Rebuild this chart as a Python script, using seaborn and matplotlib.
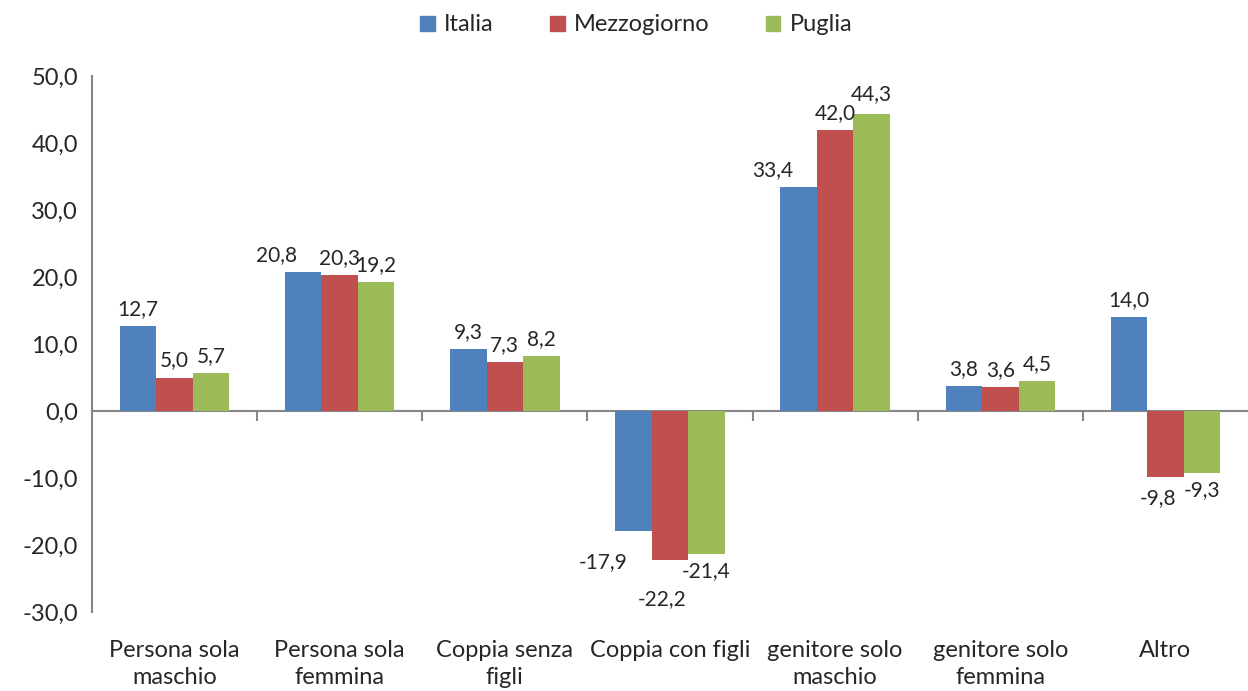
import pandas as pd
import matplotlib
matplotlib.use("Agg")
import matplotlib.pyplot as plt
import seaborn as sns
from matplotlib.patches import Patch

# Dati
categorie = ["Persona sola\nmaschio", "Persona sola\nfemmina", "Coppia senza\nfigli",
             "Coppia con figli", "genitore solo\nmaschio", "genitore solo\nfemmina", "Altro"]
serie = ["Italia", "Mezzogiorno", "Puglia"]
italia = [12.7, 20.8, 9.3, -17.9, 33.4, 3.8, 14.0]
mezzogiorno = [5.0, 20.3, 7.3, -22.2, 42.0, 3.6, -9.8]
puglia = [5.7, 19.2, 8.2, -21.4, 44.3, 4.5, -9.3]
colori = ["#4F81BD", "#C0504D", "#9BBB59"]
yticks = [-30, -20, -10, 0, 10, 20, 30, 40, 50]

df = pd.DataFrame({
    "categoria": categorie * 3,
    "serie": [s for s in serie for _ in categorie],
    "valore": italia + mezzogiorno + puglia,
})

sns.set_style("white")
plt.rcParams["font.family"] = ["Lato", "DejaVu Sans"]
grigio = "#868686"

fig = plt.figure(figsize=(12.48, 6.91), dpi=100)
ax = fig.add_axes([92 / 1248, 1 - 612 / 691, (1248 - 92) / 1248, (612 - 76) / 691])

sns.barplot(data=df, x="categoria", y="valore", hue="serie", order=categorie,
            hue_order=serie, palette=colori, width=0.663, gap=0, saturation=1,
            linewidth=0, legend=False, ax=ax)

# spostamenti delle etichette sovrapposte (in punti), come fa Excel
spost = {(0, 1): (-19, 0), (0, 4): (-19, 0), (0, 3): (-22, -10), (1, 3): (-6, -16),
         (1, 6): (-5, -3), (2, 4): (0, 2)}

# etichette dei valori
for i, (cont, vals) in enumerate(zip(ax.containers, [italia, mezzogiorno, puglia])):
    lab = [f"{v:.1f}".replace(".", ",") for v in vals]
    anns = ax.bar_label(cont, labels=lab, padding=5, fontsize=15)
    for j, a in enumerate(anns):
        if (i, j) in spost:
            dx, dy = spost[(i, j)]
            x0, y0 = a.xyann
            a.xyann = (x0 + dx, y0 + dy)

ax.set_ylim(-30, 50)
ax.set_xlim(-0.5, len(categorie) - 0.5)
ax.set_yticks(yticks)
ax.set_yticklabels([f"{v:.1f}".replace(".", ",") for v in yticks], fontsize=17)
ax.set_xlabel("")
ax.set_ylabel("")
ax.tick_params(axis="x", length=0, pad=20, labelsize=17)
for t in ax.get_xticklabels():
    t.set_linespacing(1.35)
ax.tick_params(axis="y", length=6, width=1.5, color=grigio, direction="out", pad=4)
for s in ["top", "right", "bottom"]:
    ax.spines[s].set_visible(False)
ax.spines["left"].set_color(grigio)
ax.spines["left"].set_linewidth(1.5)

# asse x sulla linea dello zero
zero = (0 - yticks[0]) / (yticks[-1] - yticks[0])
sec = ax.secondary_xaxis(zero)
sec.set_xticks([i + 0.5 for i in range(len(categorie) - 1)])
sec.set_xticklabels([])
sec.tick_params(length=7, width=1.5, color=grigio, direction="out")
sec.spines["bottom"].set_color(grigio)
sec.spines["bottom"].set_linewidth(1.5)

handles = [Patch(color=c, label=s) for c, s in zip(colori, serie)]
fig.legend(handles=handles, loc="upper center", bbox_to_anchor=(0.51, 1.01), ncol=3,
           frameon=False, fontsize=17, handlelength=0.6, handleheight=0.6,
           handletextpad=0.4, columnspacing=2.4)

fig.savefig("out.png", dpi=100)
